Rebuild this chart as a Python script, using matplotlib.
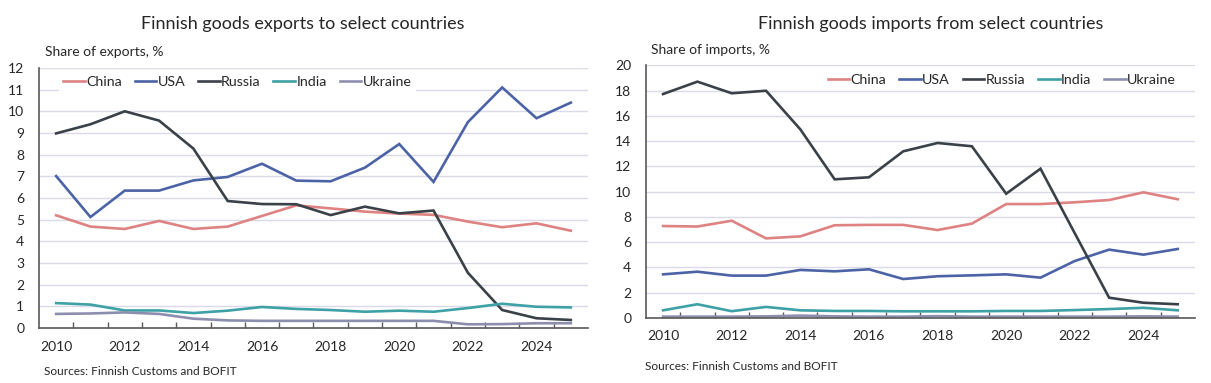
import matplotlib
matplotlib.use("Agg")
import matplotlib.pyplot as plt
import numpy as np

plt.rcParams['font.family'] = ['Lato', 'DejaVu Sans']

years = list(range(2010, 2026))
series_names = ['China', 'USA', 'Russia', 'India', 'Ukraine']
colors = ['#DE8282', '#4C63A6', '#3B4149', '#3DA1A6', '#8D8EAE']

# share of exports, %
exp_china = [5.2, 4.68, 4.57, 4.94, 4.57, 4.68, 5.17, 5.66, 5.52, 5.37, 5.28, 5.22, 4.91, 4.65, 4.83, 4.49]
exp_usa = [7.01, 5.12, 6.34, 6.34, 6.81, 6.97, 7.58, 6.8, 6.77, 7.4, 8.49, 6.74, 9.5, 11.1, 9.68, 10.4]
exp_russia = [8.98, 9.4, 10.0, 9.57, 8.28, 5.86, 5.72, 5.71, 5.21, 5.6, 5.29, 5.42, 2.55, 0.83, 0.45, 0.37]
exp_india = [1.15, 1.08, 0.81, 0.81, 0.69, 0.8, 0.97, 0.88, 0.83, 0.75, 0.8, 0.75, 0.92, 1.12, 0.98, 0.95]
exp_ukraine = [0.65, 0.67, 0.72, 0.65, 0.43, 0.35, 0.33, 0.33, 0.33, 0.33, 0.33, 0.33, 0.17, 0.18, 0.22, 0.22]

# share of imports, %
imp_china = [7.28, 7.24, 7.7, 6.3, 6.46, 7.34, 7.37, 7.37, 6.96, 7.47, 9.02, 9.02, 9.16, 9.34, 9.95, 9.4]
imp_usa = [3.45, 3.66, 3.35, 3.35, 3.8, 3.69, 3.85, 3.08, 3.3, 3.37, 3.45, 3.19, 4.51, 5.41, 5.01, 5.46]
imp_russia = [17.74, 18.72, 17.8, 18.0, 14.94, 10.98, 11.14, 13.2, 13.86, 13.6, 9.84, 11.82, 6.7, 1.6, 1.2, 1.08]
imp_india = [0.6, 1.08, 0.53, 0.87, 0.6, 0.55, 0.55, 0.52, 0.52, 0.52, 0.55, 0.55, 0.62, 0.7, 0.8, 0.6]
imp_ukraine = [0.1, 0.1, 0.1, 0.12, 0.18, 0.12, 0.1, 0.1, 0.14, 0.1, 0.1, 0.1, 0.1, 0.1, 0.12, 0.1]

exports = [exp_china, exp_usa, exp_russia, exp_india, exp_ukraine]
imports = [imp_china, imp_usa, imp_russia, imp_india, imp_ukraine]

grid_col = '#DADAE8'
spine_col = '#595959'
text_col = '#262626'


def draw_panel(ax, data, ymax, ystep, legend_anchor):
    x = np.arange(len(years))
    for vals, name, c in zip(data, series_names, colors):
        ax.plot(x, vals, color=c, lw=1.9, label=name, solid_joinstyle='miter')
    ax.set_xlim(-0.5, len(years) - 0.5)
    ax.set_ylim(0, ymax)
    ax.set_yticks(np.arange(0, ymax + 0.1, ystep))
    ax.set_xticks(x[::2])
    ax.set_xticklabels([str(y) for y in years[::2]])
    ax.set_xticks(np.arange(0.5, len(years) - 0.5), minor=True)
    ax.tick_params(axis='x', which='major', length=0, pad=9, labelsize=10, colors=text_col)
    ax.tick_params(axis='x', which='minor', direction='in', length=4, width=1, color=spine_col)
    ax.tick_params(axis='y', length=0, pad=10.5, labelsize=10, colors=text_col)
    ax.grid(axis='y', color=grid_col, lw=1)
    ax.set_axisbelow(True)
    for s in ['top', 'right']:
        ax.spines[s].set_visible(False)
    for s in ['left', 'bottom']:
        ax.spines[s].set_color(spine_col)
        ax.spines[s].set_linewidth(1.2)
    leg = ax.legend(loc='upper left', bbox_to_anchor=legend_anchor, ncol=5, frameon=True,
                    fancybox=False, edgecolor='none', facecolor='white', framealpha=1,
                    handlelength=1.5, handletextpad=0.1, columnspacing=0.9,
                    borderaxespad=0, fontsize=10.3, borderpad=0.3)
    for t in leg.get_texts():
        t.set_color(text_col)
    return ax


fig = plt.figure(figsize=(12.11, 3.83), dpi=100)

ax1 = fig.add_axes([0.0322, 0.1436, 0.4533, 0.679])
draw_panel(ax1, exports, 12, 1, (0.036, 0.985))

ax2 = fig.add_axes([0.5334, 0.170, 0.4533, 0.659])
draw_panel(ax2, imports, 20, 2, (0.3235, 0.985))

fig.text(0.2498, 0.937, 'Finnish goods exports to select countries', ha='center', va='center',
         fontsize=13, color=text_col)
fig.text(0.7688, 0.937, 'Finnish goods imports from select countries', ha='center', va='center',
         fontsize=13, color=text_col)
fig.text(0.0372, 0.864, 'Share of exports, %', ha='left', va='center', fontsize=10, color=text_col)
fig.text(0.5376, 0.869, 'Share of imports, %', ha='left', va='center', fontsize=10, color=text_col)
fig.text(0.0363, 0.031, 'Sources: Finnish Customs and BOFIT', ha='left', va='center', fontsize=8.6,
         color=text_col)
fig.text(0.5326, 0.042, 'Sources: Finnish Customs and BOFIT', ha='left', va='center', fontsize=8.6,
         color=text_col)

fig.savefig('out.png', dpi=100, facecolor='white')
